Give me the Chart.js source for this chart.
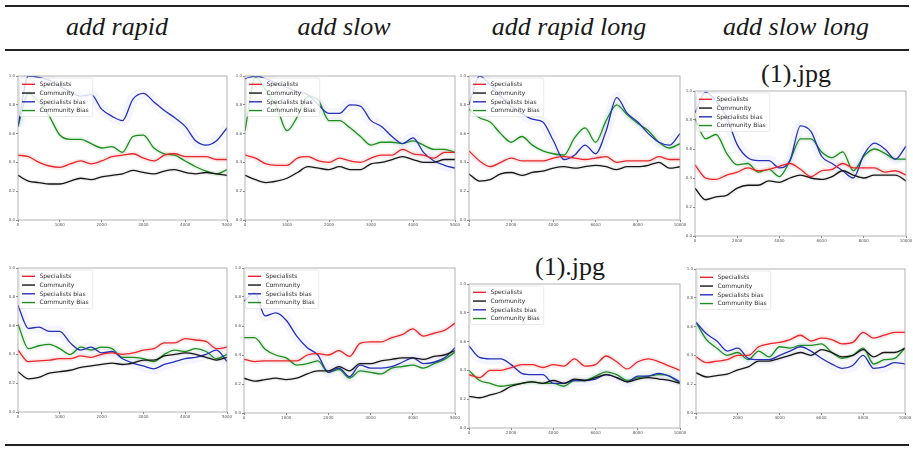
<!DOCTYPE html>
<html>
<head>
<meta charset="utf-8">
<script src="https://cdn.jsdelivr.net/npm/chart.js@4.4.1/dist/chart.umd.min.js"></script>
<style>
  body { margin: 0; background: #fff; width: 913px; height: 449px; position: relative; overflow: hidden;
         font-family: "Liberation Serif", "DejaVu Serif", serif; color: #1a1a1a; }
  .rule { position: absolute; left: 5px; width: 904px; background: #222; }
  .head { position: absolute; top: 14px; font-family: "Liberation Serif", "DejaVu Serif", serif;
          font-style: italic; font-size: 26px; line-height: 26px;
          transform: translateX(-50%); white-space: nowrap; }
  .cap  { position: absolute; font-family: "Liberation Serif", "DejaVu Serif", serif;
          font-size: 26px; line-height: 26px; transform: translateX(-50%); white-space: nowrap; }
  canvas { position: absolute; }
</style>
</head>
<body>

<div class="rule" style="top:5px;height:2px"></div>
<div class="rule" style="top:49px;height:1.5px"></div>
<div class="rule" style="top:444px;height:1.5px"></div>

<div class="head" style="left:117px">add rapid</div>
<div class="head" style="left:344px">add slow</div>
<div class="head" style="left:569px">add rapid long</div>
<div class="head" style="left:796px">add slow long</div>

<div class="cap" style="left:796px;top:61px">(1).jpg</div>
<div class="cap" style="left:570px;top:254px">(1).jpg</div>

<script>
// ─── DATA ─────────────────────────────────────────────────────
const X_SHORT = [0, 250, 500, 750, 1000, 1250, 1500, 1750, 2000, 2250, 2500,
                 2750, 3000, 3250, 3500, 3750, 4000, 4250, 4500, 4750, 5000];
const X_LONG  = [0, 500, 1000, 1500, 2000, 2500, 3000, 3500, 4000, 4500, 5000,
                 5500, 6000, 6500, 7000, 7500, 8000, 8500, 9000, 9500, 10000];
const Y_TICKS = [0, 0.2, 0.4, 0.6, 0.8, 1.0];
const SERIES_NAMES = ['Specialists', 'Community', 'Specialists bias', 'Community Bias'];

// row 1 — add rapid
const rapid1Spec     = [0.45,0.44,0.40,0.375,0.365,0.39,0.41,0.39,0.41,0.44,0.45,0.46,0.43,0.41,0.45,0.46,0.44,0.44,0.44,0.42,0.42];
const rapid1Comm     = [0.31,0.27,0.26,0.25,0.25,0.27,0.29,0.28,0.30,0.31,0.32,0.345,0.33,0.32,0.34,0.35,0.33,0.32,0.33,0.32,0.31];
const rapid1SpecBias = [0.65,1.0,0.99,0.97,0.93,0.89,0.86,0.87,0.77,0.72,0.69,0.84,0.88,0.82,0.76,0.71,0.65,0.55,0.52,0.55,0.64];
const rapid1CommBias = [0.65,0.88,0.82,0.72,0.59,0.56,0.56,0.53,0.50,0.51,0.47,0.58,0.59,0.50,0.46,0.45,0.41,0.37,0.34,0.32,0.35];
// row 1 — add slow
const slow1Spec      = [0.45,0.43,0.39,0.38,0.38,0.43,0.44,0.41,0.40,0.43,0.41,0.40,0.43,0.45,0.45,0.49,0.46,0.45,0.43,0.47,0.47];
const slow1Comm      = [0.31,0.28,0.26,0.27,0.29,0.33,0.37,0.36,0.35,0.37,0.35,0.35,0.39,0.40,0.42,0.44,0.42,0.40,0.40,0.42,0.42];
const slow1SpecBias  = [0.98,1.0,0.98,0.95,0.92,0.89,0.87,0.80,0.74,0.74,0.80,0.79,0.69,0.65,0.58,0.53,0.57,0.47,0.41,0.38,0.36];
const slow1CommBias  = [0.62,0.99,0.90,0.79,0.62,0.72,0.86,0.83,0.69,0.69,0.64,0.58,0.52,0.54,0.54,0.53,0.55,0.52,0.49,0.49,0.47];
// row 1 — add rapid long
const rapidLong1Spec     = [0.48,0.41,0.37,0.40,0.43,0.41,0.41,0.41,0.43,0.44,0.43,0.42,0.43,0.44,0.40,0.41,0.41,0.41,0.44,0.42,0.42];
const rapidLong1Comm     = [0.32,0.27,0.28,0.32,0.33,0.31,0.33,0.34,0.36,0.37,0.36,0.37,0.38,0.37,0.35,0.37,0.37,0.38,0.40,0.36,0.37];
const rapidLong1SpecBias = [0.80,1.0,0.94,0.86,0.79,0.74,0.70,0.68,0.55,0.42,0.45,0.52,0.46,0.62,0.85,0.74,0.68,0.60,0.54,0.52,0.60];
const rapidLong1CommBias = [0.77,0.71,0.68,0.60,0.54,0.58,0.52,0.48,0.46,0.45,0.57,0.64,0.54,0.69,0.80,0.73,0.67,0.62,0.54,0.50,0.53];
// row 1 — add slow long
const slowLong1Spec      = [0.49,0.40,0.39,0.42,0.44,0.47,0.45,0.46,0.48,0.50,0.46,0.41,0.45,0.46,0.50,0.47,0.47,0.47,0.44,0.45,0.42];
const slowLong1Comm      = [0.33,0.25,0.27,0.28,0.33,0.35,0.35,0.38,0.37,0.40,0.42,0.40,0.39,0.41,0.45,0.42,0.40,0.42,0.42,0.42,0.38];
const slowLong1SpecBias  = [0.85,0.99,0.93,0.82,0.63,0.54,0.52,0.52,0.47,0.52,0.76,0.72,0.55,0.50,0.45,0.40,0.56,0.64,0.60,0.53,0.62];
const slowLong1CommBias  = [0.81,0.67,0.70,0.57,0.49,0.50,0.44,0.46,0.41,0.52,0.67,0.67,0.58,0.54,0.58,0.45,0.55,0.60,0.57,0.53,0.53];

// row 2 — add rapid
const rapid2Spec     = [0.43,0.35,0.355,0.36,0.37,0.37,0.39,0.38,0.40,0.41,0.40,0.41,0.43,0.44,0.48,0.48,0.51,0.50,0.49,0.44,0.45];
const rapid2Comm     = [0.28,0.23,0.24,0.27,0.28,0.29,0.31,0.32,0.33,0.34,0.33,0.34,0.36,0.36,0.39,0.40,0.41,0.40,0.38,0.36,0.38];
const rapid2SpecBias = [0.74,0.58,0.59,0.56,0.56,0.48,0.43,0.45,0.41,0.42,0.37,0.34,0.32,0.30,0.33,0.35,0.37,0.38,0.40,0.43,0.35];
const rapid2CommBias = [0.61,0.44,0.46,0.47,0.44,0.40,0.45,0.43,0.45,0.44,0.38,0.38,0.37,0.35,0.40,0.43,0.42,0.44,0.42,0.37,0.40];
// row 2 — add slow
const slow2Spec      = [0.37,0.355,0.36,0.36,0.36,0.36,0.40,0.41,0.40,0.43,0.39,0.48,0.49,0.49,0.52,0.54,0.58,0.53,0.55,0.57,0.62];
const slow2Comm      = [0.24,0.22,0.23,0.24,0.23,0.24,0.27,0.29,0.29,0.32,0.29,0.34,0.34,0.36,0.37,0.38,0.38,0.37,0.39,0.40,0.43];
const slow2SpecBias  = [0.77,0.83,0.67,0.69,0.64,0.53,0.45,0.40,0.28,0.31,0.25,0.33,0.31,0.31,0.32,0.35,0.38,0.34,0.35,0.38,0.45];
const slow2CommBias  = [0.52,0.52,0.44,0.40,0.38,0.33,0.34,0.36,0.28,0.30,0.24,0.29,0.28,0.27,0.31,0.32,0.33,0.31,0.34,0.37,0.42];
// row 2 — add rapid long
const rapidLong2Spec     = [0.37,0.35,0.40,0.40,0.42,0.44,0.44,0.42,0.44,0.43,0.48,0.43,0.44,0.50,0.46,0.41,0.46,0.48,0.46,0.43,0.40];
const rapidLong2Comm     = [0.22,0.21,0.23,0.25,0.29,0.31,0.32,0.31,0.33,0.31,0.34,0.33,0.35,0.37,0.35,0.32,0.34,0.35,0.34,0.33,0.31];
const rapidLong2SpecBias = [0.57,0.49,0.48,0.48,0.44,0.38,0.37,0.37,0.31,0.31,0.33,0.33,0.34,0.37,0.35,0.32,0.36,0.36,0.38,0.36,0.32];
const rapidLong2CommBias = [0.40,0.33,0.31,0.29,0.30,0.31,0.32,0.31,0.31,0.29,0.33,0.33,0.36,0.39,0.37,0.33,0.35,0.36,0.37,0.36,0.31];
// row 2 — add slow long
const slowLong2Spec      = [0.39,0.35,0.36,0.37,0.40,0.40,0.46,0.48,0.49,0.51,0.54,0.50,0.52,0.51,0.48,0.49,0.56,0.52,0.54,0.56,0.56];
const slowLong2Comm      = [0.28,0.25,0.26,0.27,0.30,0.32,0.36,0.36,0.38,0.40,0.42,0.40,0.44,0.42,0.39,0.40,0.44,0.39,0.42,0.42,0.45];
const slowLong2SpecBias  = [0.63,0.55,0.50,0.43,0.45,0.38,0.37,0.37,0.40,0.43,0.46,0.43,0.38,0.34,0.31,0.33,0.40,0.31,0.32,0.35,0.34];
const slowLong2CommBias  = [0.63,0.51,0.45,0.40,0.42,0.37,0.43,0.39,0.46,0.45,0.47,0.47,0.48,0.42,0.38,0.40,0.45,0.34,0.37,0.38,0.45];

// ─── STYLE ────────────────────────────────────────────────────
const LINE_COLORS  = ['#e8262b', '#161616', '#2630b8', '#1f8c22'];
const NOISE_COLORS = ['rgba(240,60,60,0.11)', 'rgba(60,60,60,0.08)', 'rgba(80,80,230,0.06)', 'rgba(40,160,40,0.09)'];
const NOISE_WIDTH  = [5, 4, 11, 5];

// plot-area placement (px) of each panel
const PANELS = [
  { left: 18,  top: 76,  w: 209, h: 144, xs: X_SHORT, step: 1000, series: [rapid1Spec, rapid1Comm, rapid1SpecBias, rapid1CommBias] },
  { left: 245, top: 76,  w: 210, h: 144, xs: X_SHORT, step: 1000, series: [slow1Spec, slow1Comm, slow1SpecBias, slow1CommBias] },
  { left: 469, top: 76,  w: 211, h: 144, xs: X_LONG,  step: 2000, series: [rapidLong1Spec, rapidLong1Comm, rapidLong1SpecBias, rapidLong1CommBias] },
  { left: 695, top: 91,  w: 211, h: 145, xs: X_LONG,  step: 2000, series: [slowLong1Spec, slowLong1Comm, slowLong1SpecBias, slowLong1CommBias] },
  { left: 18,  top: 268, w: 209, h: 144, xs: X_SHORT, step: 1000, series: [rapid2Spec, rapid2Comm, rapid2SpecBias, rapid2CommBias] },
  { left: 244, top: 268, w: 211, h: 145, xs: X_SHORT, step: 1000, series: [slow2Spec, slow2Comm, slow2SpecBias, slow2CommBias] },
  { left: 469, top: 284, w: 211, h: 144, xs: X_LONG,  step: 2000, series: [rapidLong2Spec, rapidLong2Comm, rapidLong2SpecBias, rapidLong2CommBias] },
  { left: 696, top: 269, w: 209, h: 144, xs: X_LONG,  step: 2000, series: [slowLong2Spec, slowLong2Comm, slowLong2SpecBias, slowLong2CommBias] }
];

const PAD_L = 14, PAD_T = 4, PAD_R = 8, PAD_B = 9;

// ─── PLUGINS ──────────────────────────────────────────────────
const frameBox = {
  id: 'frameBox',
  afterDraw(chart) {
    const { ctx, chartArea: a } = chart;
    ctx.save();
    ctx.strokeStyle = '#a0a0a0';
    ctx.lineWidth = 0.8;
    ctx.strokeRect(a.left, a.top, a.right - a.left, a.bottom - a.top);
    ctx.restore();
  }
};

const insideLegend = {
  id: 'insideLegend',
  afterDatasetsDraw(chart) {
    const { ctx, chartArea: a } = chart;
    const items = chart.data.datasets.filter(d => !d.noise);
    ctx.save();
    ctx.font = '6px "DejaVu Sans"';
    const textW = Math.max(...items.map(d => ctx.measureText(d.label).width));
    const x0 = a.left + 1.5, y0 = a.top + 2;
    const rowH = 8.75;
    const w = 20 + textW + 4, h = rowH * items.length + 3.5;
    ctx.fillStyle = 'rgba(255,255,255,0.82)';
    ctx.strokeStyle = '#dcdcdc';
    ctx.lineWidth = 0.6;
    ctx.beginPath();
    ctx.roundRect(x0, y0, w, h, 1.5);
    ctx.fill();
    ctx.stroke();
    items.forEach((d, i) => {
      const y = y0 + 6.3 + i * rowH;
      ctx.strokeStyle = d.borderColor;
      ctx.lineWidth = 1.4;
      ctx.beginPath();
      ctx.moveTo(x0 + 2.5, y);
      ctx.lineTo(x0 + 15.5, y);
      ctx.stroke();
      ctx.fillStyle = '#2a2a2a';
      ctx.textBaseline = 'middle';
      ctx.fillText(d.label, x0 + 20, y + 0.3);
    });
    ctx.restore();
  }
};

// ─── BUILD ────────────────────────────────────────────────────
function makePanel(p) {
  const cv = document.createElement('canvas');
  cv.width  = p.w + PAD_L + PAD_R;
  cv.height = p.h + PAD_T + PAD_B;
  cv.style.left = (p.left - PAD_L) + 'px';
  cv.style.top  = (p.top - PAD_T) + 'px';
  document.body.appendChild(cv);

  const toPts = arr => p.xs.map((x, i) => ({ x, y: arr[i] }));
  const noise = p.series.map((arr, k) => ({
    noise: true, label: '', data: toPts(arr),
    borderColor: NOISE_COLORS[k], borderWidth: NOISE_WIDTH[k],
    pointRadius: 0, cubicInterpolationMode: 'monotone', clip: 0, order: 2
  }));
  const lines = p.series.map((arr, k) => ({
    label: SERIES_NAMES[k], data: toPts(arr),
    borderColor: LINE_COLORS[k], borderWidth: 1.3,
    pointRadius: 0, cubicInterpolationMode: 'monotone', clip: 0, order: 1
  }));

  const tickFont = { size: 4, family: "'DejaVu Sans'" };
  new Chart(cv, {
    type: 'line',
    data: { datasets: [...noise, ...lines] },
    options: {
      responsive: false,
      animation: false,
      layout: { padding: { top: PAD_T, right: PAD_R, left: 0, bottom: 0 } },
      plugins: { legend: { display: false }, tooltip: { enabled: false } },
      scales: {
        x: {
          type: 'linear', min: 0, max: p.xs[p.xs.length - 1],
          afterFit: s => { s.height = PAD_B; },
          ticks: { stepSize: p.step, font: tickFont, color: '#555', padding: 1, maxRotation: 0,
                   callback: v => String(v) },
          grid: { drawOnChartArea: false, drawTicks: true, tickLength: 2, color: '#888' },
          border: { display: false }
        },
        y: {
          min: 0, max: 1,
          afterFit: s => { s.width = PAD_L; },
          afterBuildTicks: s => { s.ticks = Y_TICKS.map(v => ({ value: v })); },
          ticks: { font: tickFont, color: '#555', padding: 1, callback: v => v.toFixed(1) },
          grid: { drawOnChartArea: false, drawTicks: true, tickLength: 2, color: '#888' },
          border: { display: false }
        }
      }
    },
    plugins: [insideLegend, frameBox]
  });
}

PANELS.forEach(makePanel);
</script>
</body>
</html>
